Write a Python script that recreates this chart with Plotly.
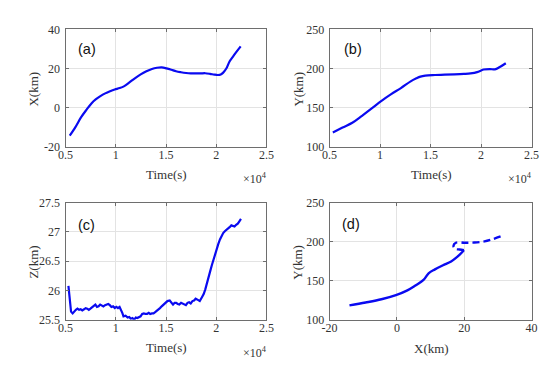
import plotly.graph_objects as go

# ---------------- data ----------------
# (a) X(km) vs time
time_a = [5420, 6000, 6540, 7100, 7600, 8000, 8470, 8950, 9430, 9900, 10390, 10850, 11360,
          11900, 12480, 13050, 13600, 14100, 14570, 15050, 15530, 16000, 16490, 17000, 17460,
          17950, 18420, 18900, 19380, 19800, 20180, 20450, 20670, 21000, 21310, 21650, 21950, 22430]
x_a = [-14.3, -9.8, -5.0, -1.0, 2.3, 4.2, 5.9, 7.3, 8.4, 9.3, 10.0, 11.0, 12.9,
       15.0, 17.0, 18.6, 19.8, 20.4, 20.6, 20.1, 19.4, 18.6, 18.1, 17.7, 17.5,
       17.5, 17.5, 17.6, 17.3, 16.9, 16.7, 17.0, 17.8, 20.0, 23.5, 26.0, 28.1, 31.3]

# (b) Y(km) vs time
time_b = [5320, 6280, 7250, 8210, 9170, 10140, 11100, 12060, 13030, 13600, 13990, 14470, 15430,
          16400, 17360, 18300, 18960, 19610, 20250, 20890, 21370, 21850, 22450]
y_b = [118.3, 124.5, 130.6, 139.5, 148.9, 158.7, 167.3, 175.0, 183.6, 187.5, 189.7, 191.0, 191.7,
       192.1, 192.5, 193.1, 193.8, 195.4, 198.7, 199.3, 198.9, 201.9, 206.8]

# (c) Z(km) vs time
time_c = [5290, 5420, 5550, 5710, 5870, 6030, 6190, 6350, 6510, 6670, 6840, 7000, 7160, 7320,
          7480, 7640, 7800, 7970, 8130, 8290, 8450, 8600, 8770, 8930, 9090, 9250, 9410, 9570,
          9730, 9900, 10060, 10220, 10380, 10540, 10650, 10770, 10980, 11180, 11340, 11500,
          11660, 11830, 11990, 12150, 12310, 12470, 12630, 12800, 12960, 13120, 13280, 13430,
          13600, 13760, 13920, 14080, 14240, 14400, 14570, 14730, 14880, 15050, 15140, 15370,
          15530, 15700, 15860, 16010, 16170, 16330, 16500, 16660, 16820, 16980, 17140, 17300,
          17460, 17630, 17790, 17950, 18170, 18360, 18590, 18750, 18910, 19070, 19230, 19400,
          19560, 19720, 19880, 20040, 20200, 20370, 20530, 20690, 20850, 21010, 21170, 21330,
          21500, 21660, 21820, 21980, 22140, 22300, 22460]
z_c = [26.08, 25.85, 25.64, 25.61, 25.65, 25.67, 25.69, 25.67, 25.68, 25.66, 25.68, 25.70, 25.69,
       25.67, 25.69, 25.71, 25.74, 25.76, 25.72, 25.73, 25.76, 25.75, 25.73, 25.75, 25.76, 25.77,
       25.75, 25.72, 25.73, 25.70, 25.72, 25.70, 25.72, 25.67, 25.62, 25.56, 25.57, 25.54, 25.55,
       25.52, 25.53, 25.50, 25.54, 25.53, 25.55, 25.56, 25.60, 25.61, 25.60, 25.60, 25.62, 25.60,
       25.61, 25.61, 25.63, 25.65, 25.67, 25.70, 25.73, 25.76, 25.78, 25.81, 25.82, 25.83, 25.79,
       25.76, 25.79, 25.79, 25.77, 25.76, 25.79, 25.78, 25.77, 25.75, 25.79, 25.80, 25.78, 25.82,
       25.83, 25.86, 25.84, 25.82, 25.89, 25.94, 26.02, 26.11, 26.22, 26.33, 26.43, 26.53, 26.63,
       26.71, 26.79, 26.87, 26.93, 26.98, 27.01, 27.03, 27.05, 27.08, 27.11, 27.10, 27.09, 27.12,
       27.14, 27.18, 27.22]

# (d) Y(km) vs X(km)
dx_solid = [-14.1, -9.3, -4.6, -0.3, 3.1, 5.5, 7.9, 9.4, 11.3, 13.7, 16.1, 18.0, 19.5, 19.9]
dy_solid = [118.5, 122.2, 126.3, 131.6, 137.7, 143.9, 151.0, 159.5, 164.5, 169.8, 174.7, 180.9, 187.0, 189.1]
dx_dash = [19.9, 18.6, 17.4, 16.8, 17.5, 20.0, 23.0, 26.0, 28.5, 30.8]
dy_dash = [189.1, 190.0, 190.6, 194.5, 198.6, 198.6, 198.8, 200.3, 203.2, 206.6]

time_ticks = [5000, 10000, 15000, 20000, 25000]
time_ticktext = ["0.5", "1", "1.5", "2", "2.5"]
xkm_ticks = [-20, 0, 20, 40]
xkm_ticktext = ["-20", "0", "20", "40"]

# ---------------- figure ----------------
W, H = 550, 365
BLUE = "#0a0af0"
SERIF = "Liberation Serif"
SANS = "Liberation Sans"

def px(x):
    return x / W

def py(y):
    return 1 - y / H

fig = go.Figure()
fig.add_trace(go.Scatter(x=time_a, y=x_a, mode="lines", line=dict(color=BLUE, width=2.2, shape="spline"),
                         xaxis="x", yaxis="y", showlegend=False))
fig.add_trace(go.Scatter(x=time_b, y=y_b, mode="lines", line=dict(color=BLUE, width=2.2, shape="spline"),
                         xaxis="x2", yaxis="y2", showlegend=False))
fig.add_trace(go.Scatter(x=time_c, y=z_c, mode="lines", line=dict(color=BLUE, width=2.2),
                         xaxis="x3", yaxis="y3", showlegend=False))
fig.add_trace(go.Scatter(x=dx_solid, y=dy_solid, mode="lines", line=dict(color=BLUE, width=2.4, shape="spline"),
                         xaxis="x4", yaxis="y4", showlegend=False))
fig.add_trace(go.Scatter(x=dx_dash, y=dy_dash, mode="lines",
                         line=dict(color=BLUE, width=2.4, shape="spline", dash="7px,4px"),
                         xaxis="x4", yaxis="y4", showlegend=False))

AX = dict(showline=True, linecolor="#6e6e6e", linewidth=1, mirror="ticks", ticks="inside",
          ticklen=3, tickcolor="#6e6e6e", showgrid=True, gridcolor="#e3e3e3", gridwidth=1,
          zeroline=False, tickfont=dict(family=SERIF, size=12, color="#333333"))

xa_dom = [px(51), px(258)]
xb_dom = [px(323), px(531)]
top_dom = [py(137), py(15)]
bot_dom = [py(317), py(195)]

XSO = -3

fig.update_layout(
    width=W, height=H, margin=dict(l=0, r=0, t=0, b=0),
    paper_bgcolor="white", plot_bgcolor="white",
    xaxis=dict(AX, domain=xa_dom, anchor="y", range=[5000, 25000], tickvals=time_ticks,
               ticktext=time_ticktext, ticklabelstandoff=XSO),
    yaxis=dict(AX, domain=top_dom, anchor="x", range=[-20, 40], tickvals=xkm_ticks,
               ticktext=xkm_ticktext, ticklabelstandoff=2),
    xaxis2=dict(AX, domain=xb_dom, anchor="y2", range=[5000, 25000], tickvals=time_ticks,
                ticktext=time_ticktext, ticklabelstandoff=XSO),
    yaxis2=dict(AX, domain=top_dom, anchor="x2", range=[100, 250], dtick=50, ticklabelstandoff=2),
    xaxis3=dict(AX, domain=xa_dom, anchor="y3", range=[5000, 25000], tickvals=time_ticks,
                ticktext=time_ticktext, ticklabelstandoff=XSO),
    yaxis3=dict(AX, domain=bot_dom, anchor="x3", range=[25.5, 27.5], dtick=0.5, ticklabelstandoff=2),
    xaxis4=dict(AX, domain=xb_dom, anchor="y4", range=[-20, 40], tickvals=xkm_ticks,
                ticktext=xkm_ticktext, ticklabelstandoff=XSO),
    yaxis4=dict(AX, domain=bot_dom, anchor="x4", range=[100, 250], dtick=50, ticklabelstandoff=2),
)

def ann(text, x, y, size=13, family=SERIF, angle=0, color="#333333"):
    fig.add_annotation(text=text, x=px(x), y=py(y), xref="paper", yref="paper", showarrow=False,
                       textangle=angle, font=dict(family=family, size=size, color=color),
                       xanchor="center", yanchor="middle")

# panel labels
ann("(a)", 73, 35, size=14.5, family=SANS, color="#111111")
ann("(b)", 347, 35, size=14.5, family=SANS, color="#111111")
ann("(c)", 73, 218, size=14.5, family=SANS, color="#111111")
ann("(d)", 345, 217, size=14.5, family=SANS, color="#111111")

# axis titles
ann("X(km)", 18, 77, angle=-90)
ann("Y(km)", 290, 77, angle=-90)
ann("Z(km)", 18, 257, angle=-90)
ann("Y(km)", 290, 257, angle=-90)
ann("Time(s)", 155, 166)
ann("Time(s)", 428, 166)
ann("Time(s)", 155, 346)
ann("X(km)", 428, 347)

# exponent labels
ann("×10<sup>4</sup>", 246, 170, size=12)
ann("×10<sup>4</sup>", 519, 170, size=12)
ann("×10<sup>4</sup>", 246, 351, size=12)

fig.write_html("out.html")
